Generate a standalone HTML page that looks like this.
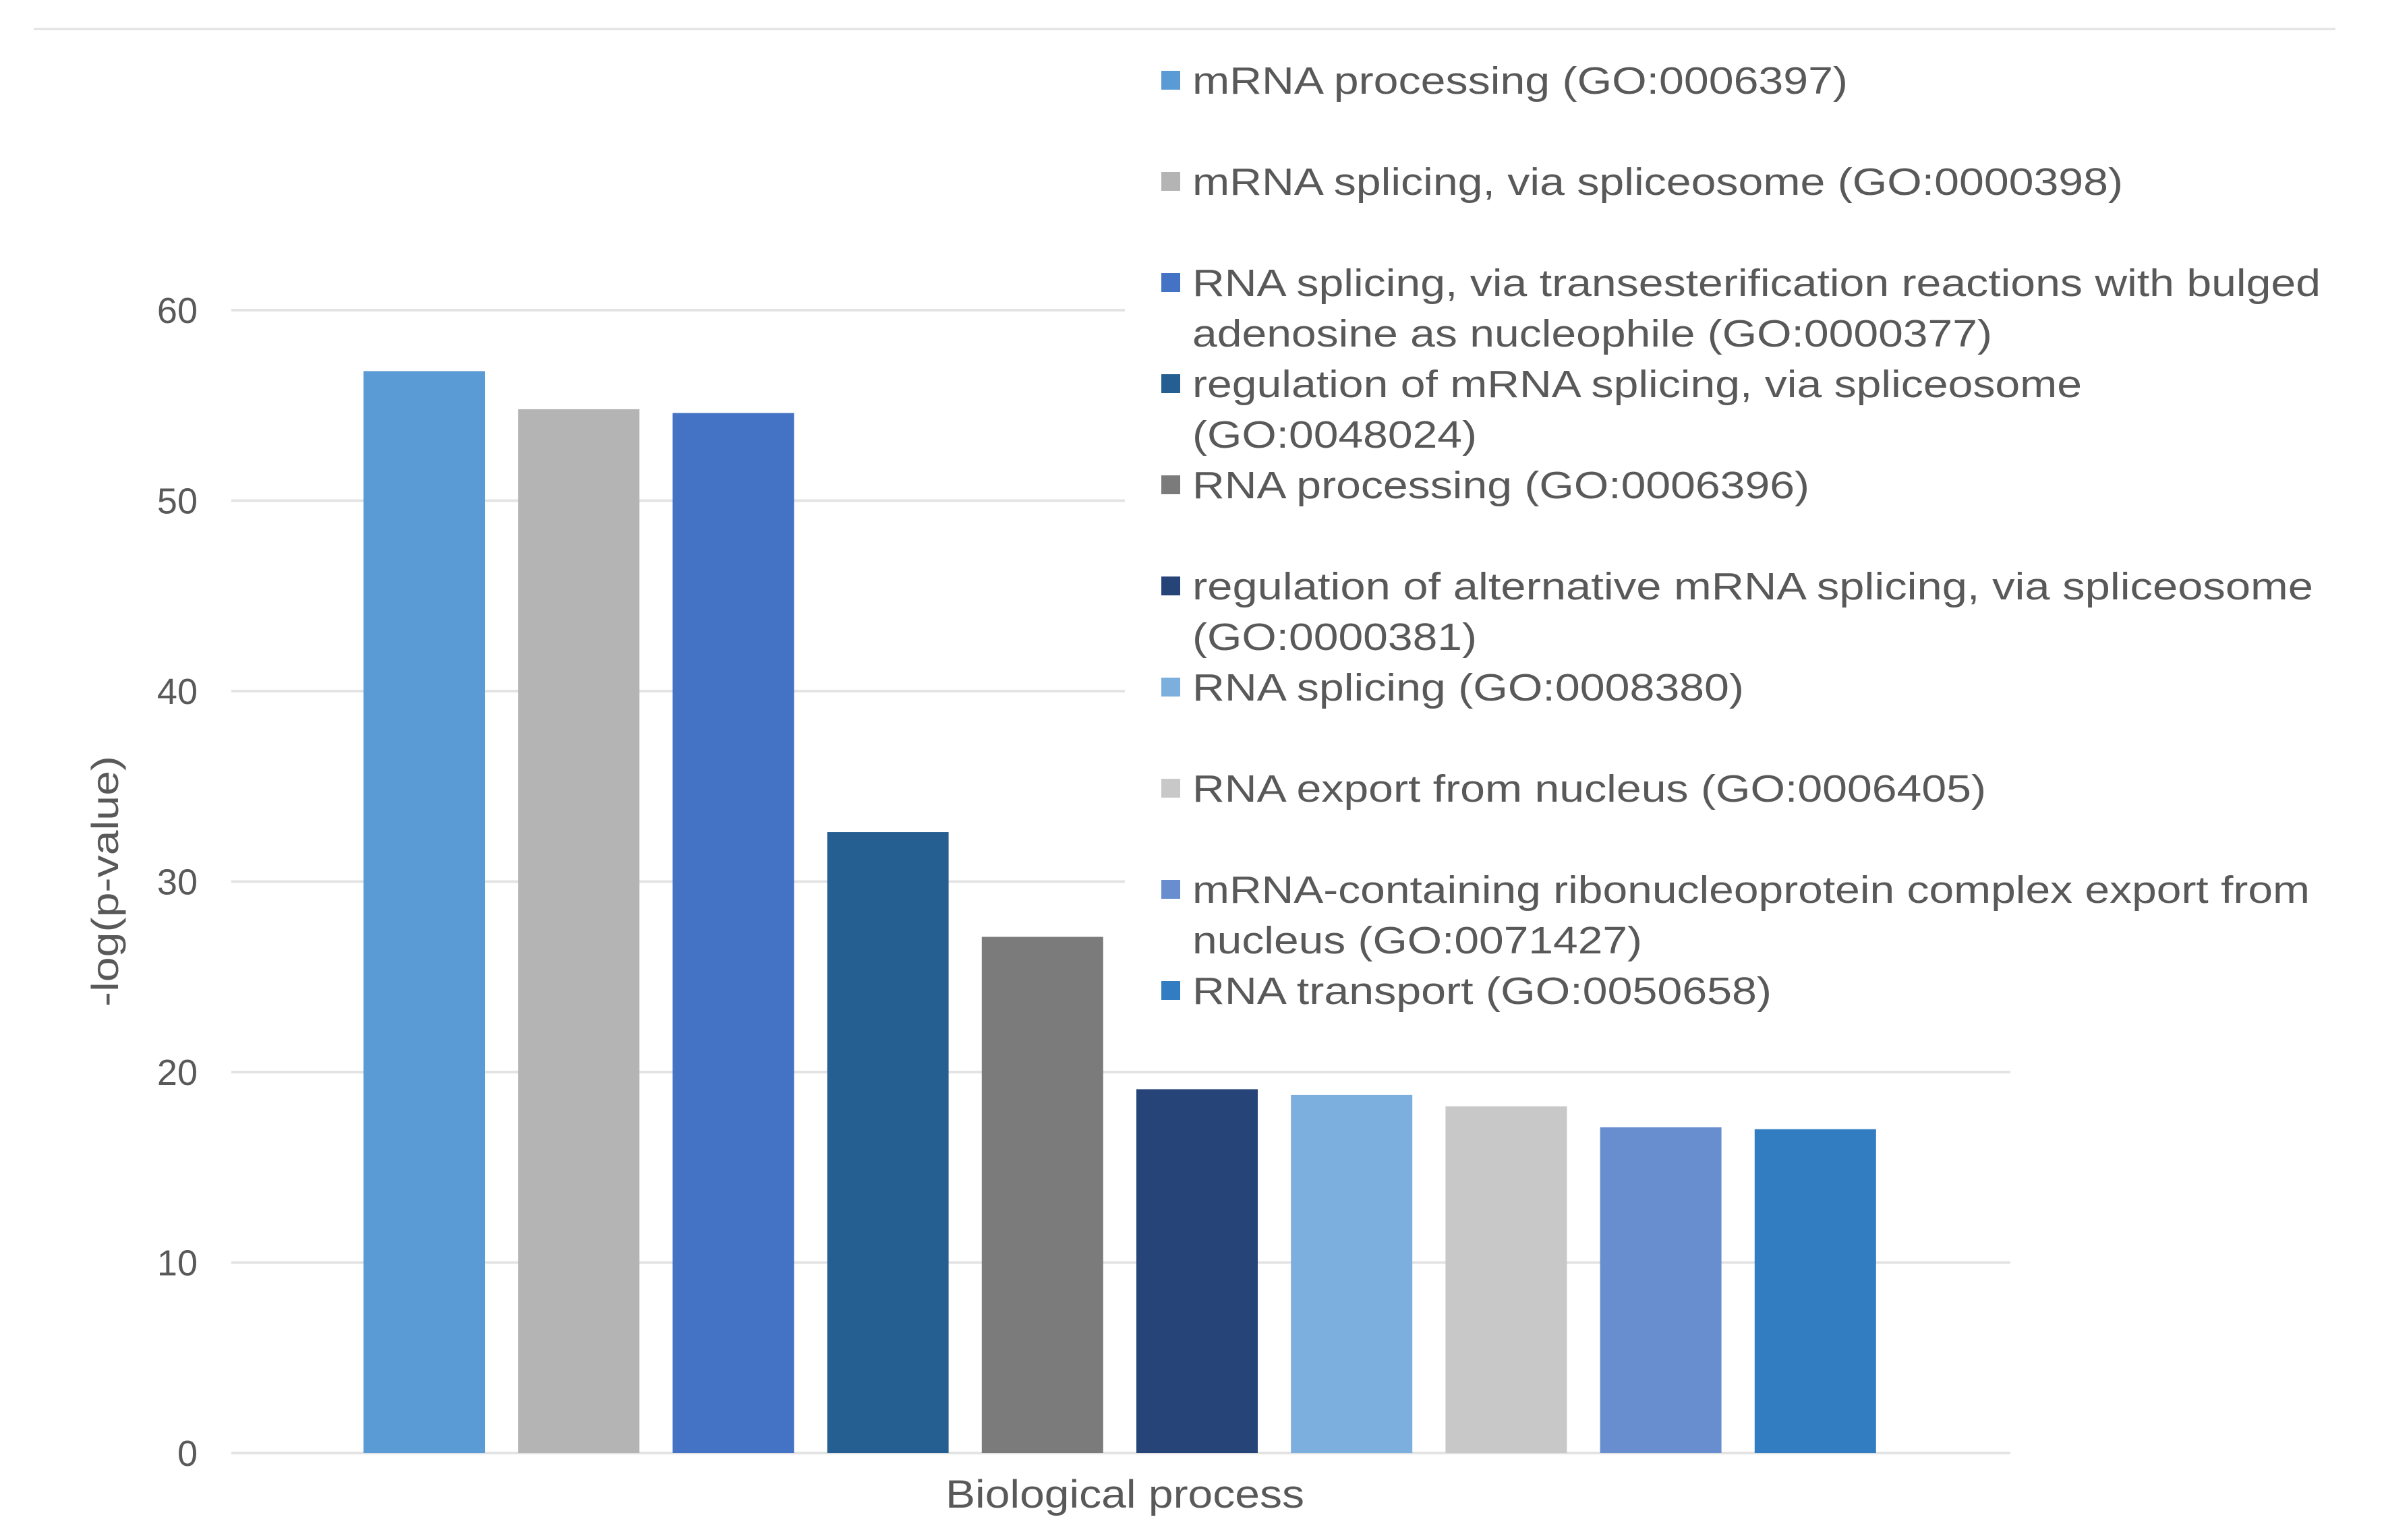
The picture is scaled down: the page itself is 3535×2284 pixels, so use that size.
<!DOCTYPE html>
<html><head><meta charset="utf-8"><style>
html,body{margin:0;padding:0;background:#fff;}
svg{display:block;font-family:"Liberation Sans",sans-serif;}
</style></head><body>
<svg id="chart" width="3535" height="2284" viewBox="0 0 3535 2284" xmlns="http://www.w3.org/2000/svg">
<rect width="3535" height="2284" fill="#fff"/>
<line x1="50" y1="43" x2="3463" y2="43" stroke="#e2e2e2" stroke-width="3"/>
<g id="grid"></g>
<g id="bars"></g>
<rect x="1668" y="60" width="1795" height="1470" fill="#fff"/>
<g id="legend"></g>
<g id="yticks"></g>
<text transform="translate(175,1307) rotate(-90)" text-anchor="middle" font-size="56" fill="#595959" textLength="372" lengthAdjust="spacingAndGlyphs">-log(p-value)</text>
<text x="1668" y="2236" text-anchor="middle" font-size="58" fill="#595959" textLength="532" lengthAdjust="spacingAndGlyphs">Biological process</text>
</svg>
<script>
const categories = ["mRNA processing (GO:0006397)","mRNA splicing, via spliceosome (GO:0000398)","RNA splicing, via transesterification reactions with bulged adenosine as nucleophile (GO:0000377)","regulation of mRNA splicing, via spliceosome (GO:0048024)","RNA processing (GO:0006396)","regulation of alternative mRNA splicing,  via spliceosome (GO:0000381)","RNA splicing (GO:0008380)","RNA export from nucleus (GO:0006405)","mRNA-containing ribonucleoprotein complex export from nucleus (GO:0071427)","RNA transport (GO:0050658)"];
const values = [56.8, 54.8, 54.6, 32.6, 27.1, 19.1, 18.8, 18.2, 17.1, 17.0];
const colors = ["#5B9BD5","#B4B4B4","#4472C4","#255E91","#7B7B7B","#264478","#7CAFDD","#C8C8C8","#698ED0","#327DC2"];
const tickValues = [0,10,20,30,40,50,60];
const legendLines = [
 ["mRNA processing (GO:0006397)"],
 ["mRNA splicing, via spliceosome (GO:0000398)"],
 ["RNA splicing, via transesterification reactions with bulged","adenosine as nucleophile (GO:0000377)"],
 ["regulation of mRNA splicing, via spliceosome","(GO:0048024)"],
 ["RNA processing (GO:0006396)"],
 ["regulation of alternative mRNA splicing,  via spliceosome","(GO:0000381)"],
 ["RNA splicing (GO:0008380)"],
 ["RNA export from nucleus (GO:0006405)"],
 ["mRNA-containing ribonucleoprotein complex export from","nucleus (GO:0071427)"],
 ["RNA transport (GO:0050658)"]
];
const legendWidthsDisp = [[431],[612],[742,526],[585,187],[406],[737,187],[363],[522],[735,296],[381]];
const NS="http://www.w3.org/2000/svg";
const y0=2155, yPerUnit=(2155-460)/60;
function yScale(v){return y0 - v*yPerUnit;}
const barLeft0=539, pitch=229.2, barW=180;
function xScale(i){return barLeft0 + i*pitch;}
function mk(tag,attrs,parent){const e=document.createElementNS(NS,tag);for(const k in attrs)e.setAttribute(k,attrs[k]);parent.appendChild(e);return e;}
const grid=document.getElementById('grid'), bars=document.getElementById('bars'), yt=document.getElementById('yticks'), lg=document.getElementById('legend');
tickValues.forEach(t=>{
  const l=mk('line',{x1:343,x2:2981,y1:yScale(t),y2:yScale(t),stroke:'#e3e3e3','stroke-width':4},grid);
  
  
  const tx=mk('text',{x:293,y:yScale(t)+19,'text-anchor':'end','font-size':54,fill:'#595959'},yt);
  tx.textContent=String(t);
  
  
});
values.forEach((v,i)=>{
  const r=mk('rect',{x:xScale(i),y:yScale(v),width:barW,height:y0-yScale(v),fill:colors[i]},bars);
  
  
});
const s=2.2545;
legendLines.forEach((lines,i)=>{
  const cy=119+i*150;
  const sq=mk('rect',{x:1722,y:cy-14,width:28,height:28,fill:colors[i]},lg);
  
  
  lines.forEach((ln,j)=>{
    const t=mk('text',{x:1768,y:cy+20+j*75,'font-size':57,fill:'#595959',textLength:Math.round(legendWidthsDisp[i][j]*s),lengthAdjust:'spacingAndGlyphs'},lg);
    t.textContent=ln;
    
    
  });
});
</script>
</body></html>
